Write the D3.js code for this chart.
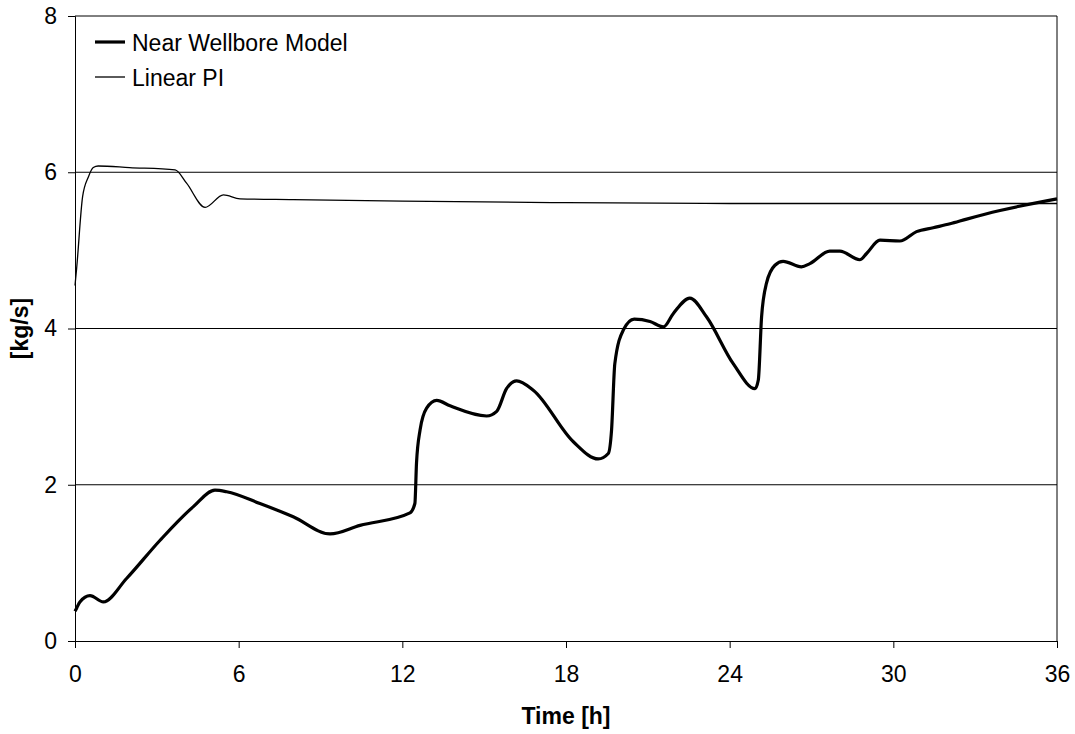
<!DOCTYPE html>
<html>
<head>
<meta charset="utf-8">
<script src="https://cdn.jsdelivr.net/npm/d3@7"></script>
<style>
  body { margin: 0; background: #fff; }
  text { font-family: Arial, "Liberation Sans", sans-serif; }
</style>
</head>
<body>
<div id="chart"></div>
<script>
// Time [h] and rate [kg/s]
const nearTime = [0, 0.06, 0.18, 0.55, 1.04, 1.89, 3.12, 4.34, 5.13, 5.56, 6.78, 8.0, 9.35, 10.45, 12.28, 12.46, 12.52, 12.65, 12.89, 13.26, 13.75, 15.09, 15.46, 15.82, 16.19, 16.8, 18.27, 19.18, 19.55, 19.67, 19.79, 20.1, 20.5, 21.08, 21.57, 21.93, 22.54, 23.15, 24.13, 24.93, 25.05, 25.17, 25.35, 25.66, 25.96, 26.63, 26.94, 27.67, 28.04, 28.77, 29.02, 29.51, 30.24, 30.85, 31.46, 32.08, 32.69, 33.91, 36];
const nearRate = [0.38, 0.42, 0.5, 0.58, 0.5, 0.8, 1.29, 1.72, 1.93, 1.91, 1.76, 1.59, 1.37, 1.48, 1.64, 1.76, 2.28, 2.7, 2.98, 3.08, 3.01, 2.88, 2.94, 3.23, 3.33, 3.21, 2.55, 2.33, 2.4, 2.7, 3.55, 3.98, 4.12, 4.09, 4.02, 4.19, 4.39, 4.15, 3.55, 3.23, 3.34, 4.15, 4.58, 4.81, 4.86, 4.79, 4.83, 4.99, 4.99, 4.88, 4.96, 5.13, 5.12, 5.24, 5.29, 5.34, 5.4, 5.51, 5.66];

const piTime = [0, 0.06, 0.28, 0.49, 0.67, 0.85, 2.0, 3.67, 4.09, 4.77, 5.44, 6.05, 8, 12, 18, 24, 30, 36];
const piRate = [4.55, 4.77, 5.69, 5.94, 6.06, 6.08, 6.06, 6.03, 5.86, 5.55, 5.71, 5.66, 5.65, 5.63, 5.61, 5.6, 5.6, 5.6];

const xTicks = [0, 6, 12, 18, 24, 30, 36];
const yTicks = [0, 2, 4, 6, 8];

const seriesNames = ["Near Wellbore Model", "Linear PI"];

const fontSize = 23;

const margin = { top: 16, right: 18, bottom: 93, left: 75 };
const totalW = 1075, totalH = 734;
const width = totalW - margin.left - margin.right;
const height = totalH - margin.top - margin.bottom;

const svg = d3.select("#chart")
  .append("svg")
    .attr("width", totalW)
    .attr("height", totalH)
  .append("g")
    .attr("transform", `translate(${margin.left},${margin.top})`);

const x = d3.scaleLinear().domain([0, 36]).range([0, width]);
const y = d3.scaleLinear().domain([0, 8]).range([height, 0]);

// Gridlines (not pixel-snapped, like the original export)
svg.append("g")
  .selectAll("line")
  .data(yTicks.filter(d => d > 0 && d < 8))
  .join("line")
    .attr("x1", 0).attr("x2", width)
    .attr("y1", d => y(d))
    .attr("y2", d => y(d))
    .attr("stroke", "#000");

// Frame (top + right)
svg.append("path")
  .attr("d", `M0,0H${width}V${height}`)
  .attr("fill", "none")
  .attr("stroke", "#000");

// Axes
const xAxis = svg.append("g")
  .attr("transform", `translate(0,${height})`)
  .call(d3.axisBottom(x).tickValues(xTicks).tickSize(7).tickPadding(18));

const yAxis = svg.append("g")
  .call(d3.axisLeft(y).tickValues(yTicks).tickSize(7).tickPadding(11));

[xAxis, yAxis].forEach(a => {
  a.selectAll("text").attr("font-size", fontSize).attr("fill", "#000")
    .style("font-family", "Arial, 'Liberation Sans', sans-serif");
  a.selectAll("line").attr("stroke", "#000");
  a.select(".domain").attr("stroke", "#000");
});

// Axis titles
svg.append("text")
  .attr("x", width / 2)
  .attr("y", height + 83)
  .attr("text-anchor", "middle")
  .attr("font-size", fontSize)
  .attr("font-weight", "bold")
  .text("Time [h]");

svg.append("text")
  .attr("transform", `translate(${-47},${height / 2}) rotate(-90)`)
  .attr("text-anchor", "middle")
  .attr("font-size", fontSize)
  .attr("font-weight", "bold")
  .text("[kg/s]");

// Lines
const line = d3.line()
  .x(d => x(d[0]))
  .y(d => y(d[1]))
  .curve(d3.curveMonotoneX);

const piData = piTime.map((t, i) => [t, piRate[i]]);
const nearData = nearTime.map((t, i) => [t, nearRate[i]]);

svg.append("path")
  .datum(piData)
  .attr("d", line)
  .attr("fill", "none")
  .attr("stroke", "#000")
  .attr("stroke-width", 1.3);

svg.append("path")
  .datum(nearData)
  .attr("d", line)
  .attr("fill", "none")
  .attr("stroke", "#000")
  .attr("stroke-width", 3.2)
  .attr("stroke-linejoin", "round");

// Legend
const legend = svg.append("g").attr("transform", "translate(20,26)");
legend.selectAll("line")
  .data(seriesNames)
  .join("line")
    .attr("x1", 0).attr("x2", 30)
    .attr("y1", (d, i) => i * 35)
    .attr("y2", (d, i) => i * 35)
    .attr("stroke", "#000")
    .attr("stroke-width", (d, i) => i === 0 ? 3.2 : 1.3);
legend.selectAll("text")
  .data(seriesNames)
  .join("text")
    .attr("x", 37)
    .attr("y", (d, i) => i * 35 + 9)
    .attr("font-size", fontSize)
    .text(d => d);
</script>
</body>
</html>
